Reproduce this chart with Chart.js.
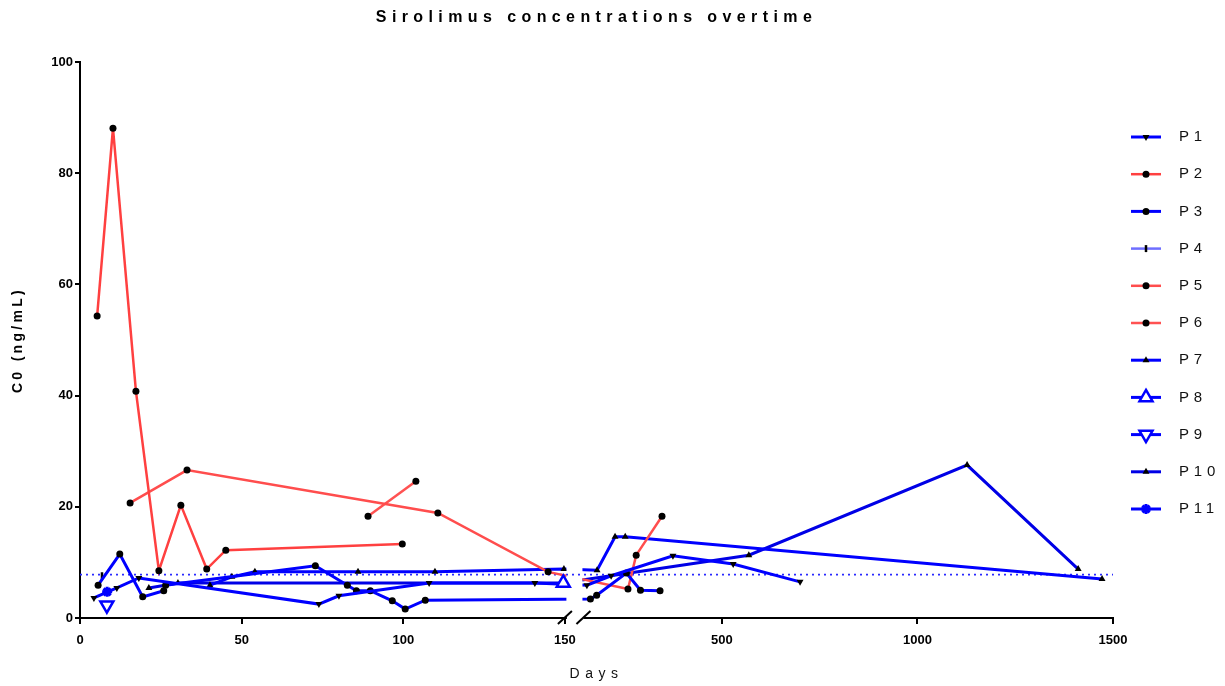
<!DOCTYPE html>
<html lang="en">
<head>
<meta charset="UTF-8">
<title>Sirolimus concentrations overtime</title>
<script src="https://cdn.jsdelivr.net/npm/chart.js"></script>
<style>
  html, body { margin: 0; padding: 0; background: #fff; }
  .box { width: 1225px; height: 686px; position: relative; }
</style>
</head>
<body>
<div class="box"><canvas id="siroChart"></canvas></div>
<script>
// days since start / trough level C0 (ng/mL), one pair per patient
const p1Days = [4.3, 11.4, 18.2, 73.9, 80.1, 108, 140.7, 155, 217, 375, 529, 700];
const p1C0 = [3.6, 5.4, 7.2, 2.5, 4.0, 6.3, 6.3, 5.9, 7.6, 11.2, 9.7, 6.5];

const p2Days = [5.3, 10.2, 17.3, 24.4, 31.2, 39.2, 45.1, 99.7];
const p2C0 = [54.3, 88.1, 40.8, 8.5, 20.3, 8.8, 12.2, 13.3];

const p3Days = [5.6, 12.3, 19.4, 25.9, 26.5, 72.8, 82.7, 85.5, 89.8, 96.6, 100.6, 106.8, 164, 180, 256, 292, 342];
const p3C0 = [5.9, 11.5, 3.8, 4.9, 5.9, 9.4, 5.9, 4.9, 4.9, 3.1, 1.6, 3.2, 3.4, 4.1, 8.1, 5.0, 4.9];

const p4Days = [6.8];
const p4C0 = [7.6];

const p5Days = [15.5, 33.1, 110.7, 144.8, 260, 281, 347];
const p5C0 = [20.7, 26.6, 18.9, 8.3, 5.2, 11.3, 18.3];

const p6Days = [89.1, 103.9];
const p6C0 = [18.3, 24.6];

const p7Days = [40.2, 47.0, 54.1, 86.0, 109.8, 149.7, 181, 227, 253, 1472];
const p7C0 = [5.9, 7.4, 8.3, 8.3, 8.3, 8.8, 8.6, 14.6, 14.6, 7.0];

const p8Days = [149.5];
const p8C0 = [6.3];

const p9Days = [8.3];
const p9C0 = [2.3];

const p10Days = [21.3, 30.3, 149.1, 569, 1127, 1411];
const p10C0 = [5.4, 6.3, 6.3, 11.3, 27.5, 8.8];

const p11Days = [8.4];
const p11C0 = [4.7];

const xTickDays = [0, 50, 100, 150, 500, 1000, 1500];
const targetC0 = 7.8;

// broken x axis: 0-150 days at full scale, 150-1500 compressed after a small gap
const BREAK_DAY = 150;
const GAP = 6.2;
const RIGHT_K = 0.121;
function toAxis(d) {
    return d <= BREAK_DAY ? d : BREAK_DAY + GAP + (d - BREAK_DAY) * RIGHT_K;
}
function pts(days, c0) {
    return days.map((d, i) => ({ x: toAxis(d), y: c0[i] }));
}

const FONT = '"Liberation Sans", Arial, sans-serif';
const BLUE = '#0000ff';
const RED = '#ff4040';

const dot = { pointStyle: 'circle', pointRadius: 3.5, pointBackgroundColor: '#000', pointBorderColor: '#000', pointBorderWidth: 0 };
const tri = { pointStyle: 'triangle', pointRadius: 4, pointBackgroundColor: '#000', pointBorderColor: '#000', pointBorderWidth: 0 };
const triDown = Object.assign({}, tri, { pointRotation: 180 });

function series(label, days, c0, color, width, marker) {
    return Object.assign({
        label: label,
        data: pts(days, c0),
        borderColor: color,
        backgroundColor: color,
        borderWidth: width,
        tension: 0,
        fill: false
    }, marker);
}

const datasets = [
    series('P1', p1Days, p1C0, BLUE, 3, triDown),
    series('P2', p2Days, p2C0, RED, 2.5, dot),
    series('P3', p3Days, p3C0, BLUE, 3, dot),
    series('P4', p4Days, p4C0, '#6e6eff', 2.5, { pointStyle: 'line', pointRotation: 90, pointRadius: 3.5, pointBorderColor: '#000', pointBackgroundColor: '#000', pointBorderWidth: 2.5 }),
    series('P5', p5Days, p5C0, '#ff4d4d', 2.5, dot),
    series('P6', p6Days, p6C0, '#ff5252', 2.5, dot),
    series('P7', p7Days, p7C0, BLUE, 3, tri),
    Object.assign(series('P8', p8Days, p8C0, BLUE, 3, { pointStyle: 'triangle', pointRadius: 7.5, pointBackgroundColor: '#fff', pointBorderColor: BLUE, pointBorderWidth: 2.5 }), { order: -1 }),
    Object.assign(series('P9', p9Days, p9C0, BLUE, 3, { pointStyle: 'triangle', pointRotation: 180, pointRadius: 7.5, pointBackgroundColor: '#fff', pointBorderColor: BLUE, pointBorderWidth: 2.5 }), { order: -1 }),
    series('P10', p10Days, p10C0, '#0000e6', 3, tri),
    Object.assign(series('P11', p11Days, p11C0, BLUE, 3, { pointStyle: 'star', pointRadius: 5, pointBackgroundColor: BLUE, pointBorderColor: BLUE, pointBorderWidth: 3 }), { order: -1 }),
    {
        label: 'target',
        data: [{ x: 0, y: targetC0 }, { x: toAxis(1500), y: targetC0 }],
        borderColor: '#2a2aff',
        borderWidth: 1.6,
        borderDash: [2, 4],
        pointRadius: 0,
        order: 10
    }
];

// which datasets are not cut at the axis break
const noBreakClip = ['P8', 'target'];

function withSpacing(obj, method, spacing) {
    if (!obj || obj['_spaced_' + method]) return;
    const orig = obj[method];
    obj[method] = function () {
        const ctx = this.ctx;
        ctx.save();
        ctx.letterSpacing = spacing;
        orig.apply(this, arguments);
        ctx.restore();
    };
    obj['_spaced_' + method] = true;
}

const spacedText = {
    id: 'spacedText',
    afterLayout(chart) {
        withSpacing(chart.titleBlock, 'draw', '5.4px');
        withSpacing(chart.scales.x, 'drawTitle', '5.5px');
        withSpacing(chart.scales.y, 'drawTitle', '3.3px');
    }
};

const brokenAxis = {
    id: 'brokenAxis',
    beforeDatasetDraw(chart, args) {
        const ds = chart.data.datasets[args.index];
        if (noBreakClip.includes(ds.label)) return;
        const ctx = chart.ctx;
        const xs = chart.scales.x;
        const g0 = xs.getPixelForValue(BREAK_DAY);
        const g1 = xs.getPixelForValue(BREAK_DAY + GAP);
        ctx.save();
        ctx.beginPath();
        ctx.rect(0, 0, g0 + 1.5, chart.height);
        ctx.rect(g1 - 2.5, 0, chart.width - g1 + 2.5, chart.height);
        ctx.clip();
    },
    afterDatasetDraw(chart, args) {
        const ds = chart.data.datasets[args.index];
        if (noBreakClip.includes(ds.label)) return;
        chart.ctx.restore();
    },
    afterDraw(chart) {
        const ctx = chart.ctx;
        const xs = chart.scales.x;
        const g0 = xs.getPixelForValue(BREAK_DAY);
        const g1 = xs.getPixelForValue(BREAK_DAY + GAP);
        ctx.save();
        ctx.fillStyle = '#fff';
        ctx.fillRect(g0 + 2, xs.top - 4, g1 - g0 - 3.5, 8);
        ctx.strokeStyle = '#000';
        ctx.lineWidth = 2;
        [g0, g1 - 1.5].forEach(cx => {
            ctx.beginPath();
            ctx.moveTo(cx - 7, xs.top + 6);
            ctx.lineTo(cx + 7, xs.top - 7);
            ctx.stroke();
        });
        ctx.restore();
    }
};

// legend drawn on the right: line + marker + label
const LEG_LINE_X0 = 1131, LEG_LINE_X1 = 1161, LEG_TEXT_X = 1179, LEG_Y0 = 137, LEG_STEP = 37.2;
const sideLegend = {
    id: 'sideLegend',
    afterDraw(chart) {
        const ctx = chart.ctx;
        const drawPoint = Chart.helpers && Chart.helpers.drawPoint;
        const items = chart.data.datasets.filter(ds => ds.label !== 'target');
        ctx.save();
        items.forEach((ds, i) => {
            const y = LEG_Y0 + i * LEG_STEP;
            ctx.setLineDash([]);
            ctx.strokeStyle = ds.borderColor;
            ctx.lineWidth = ds.borderWidth;
            ctx.beginPath();
            ctx.moveTo(LEG_LINE_X0, y);
            ctx.lineTo(LEG_LINE_X1, y);
            ctx.stroke();
            if (drawPoint) {
                ctx.fillStyle = ds.pointBackgroundColor;
                ctx.strokeStyle = ds.pointBorderColor;
                ctx.lineWidth = ds.pointBorderWidth;
                drawPoint(ctx, {
                    pointStyle: ds.pointStyle,
                    rotation: ds.pointRotation || 0,
                    radius: ds.pointRadius,
                    borderWidth: ds.pointBorderWidth
                }, (LEG_LINE_X0 + LEG_LINE_X1) / 2, y);
            }
            ctx.letterSpacing = '4.8px';
            ctx.font = '15px ' + FONT;
            ctx.fillStyle = '#111';
            ctx.textAlign = 'left';
            ctx.textBaseline = 'middle';
            ctx.fillText(ds.label, LEG_TEXT_X, y);
        });
        ctx.restore();
    }
};

Chart.defaults.font.family = FONT;

new Chart(document.getElementById('siroChart'), {
    type: 'line',
    data: { datasets: datasets },
    options: {
        responsive: true,
        maintainAspectRatio: false,
        animation: false,
        layout: { padding: { right: 112 } },
        plugins: {
            legend: { display: false },
            tooltip: { enabled: false },
            title: {
                display: true,
                text: 'Sirolimus concentrations overtime',
                fullSize: false,
                color: '#000',
                font: { size: 16, weight: 'bold' },
                padding: { top: 8, bottom: 34.8 }
            }
        },
        scales: {
            x: {
                type: 'linear',
                min: 0,
                max: toAxis(1500),
                afterBuildTicks: s => { s.ticks = xTickDays.map(d => ({ value: toAxis(d) })); },
                afterFit: s => { s.height = 68; },
                ticks: {
                    autoSkip: false,
                    maxRotation: 0,
                    padding: 9,
                    color: '#000',
                    font: { size: 13, weight: 'bold' },
                    callback: (v, i) => xTickDays[i]
                },
                grid: { drawOnChartArea: false, drawTicks: true, tickLength: 6, color: '#000', lineWidth: 2 },
                border: { color: '#000', width: 2 },
                title: {
                    display: true,
                    text: 'Days',
                    color: '#111',
                    font: { size: 14 },
                    padding: { top: 0, bottom: 3 }
                }
            },
            y: {
                min: 0,
                max: 100,
                afterFit: s => { s.width = 80; },
                ticks: {
                    stepSize: 20,
                    padding: 2,
                    color: '#000',
                    font: { size: 13, weight: 'bold' }
                },
                grid: { drawOnChartArea: false, drawTicks: true, tickLength: 5, color: '#000', lineWidth: 2 },
                border: { color: '#000', width: 2 },
                title: {
                    display: true,
                    text: 'C0 (ng/mL)',
                    color: '#000',
                    font: { size: 14, weight: 'bold' },
                    padding: { top: 10, bottom: 0 }
                }
            }
        }
    },
    plugins: [spacedText, brokenAxis, sideLegend]
});
</script>
</body>
</html>
